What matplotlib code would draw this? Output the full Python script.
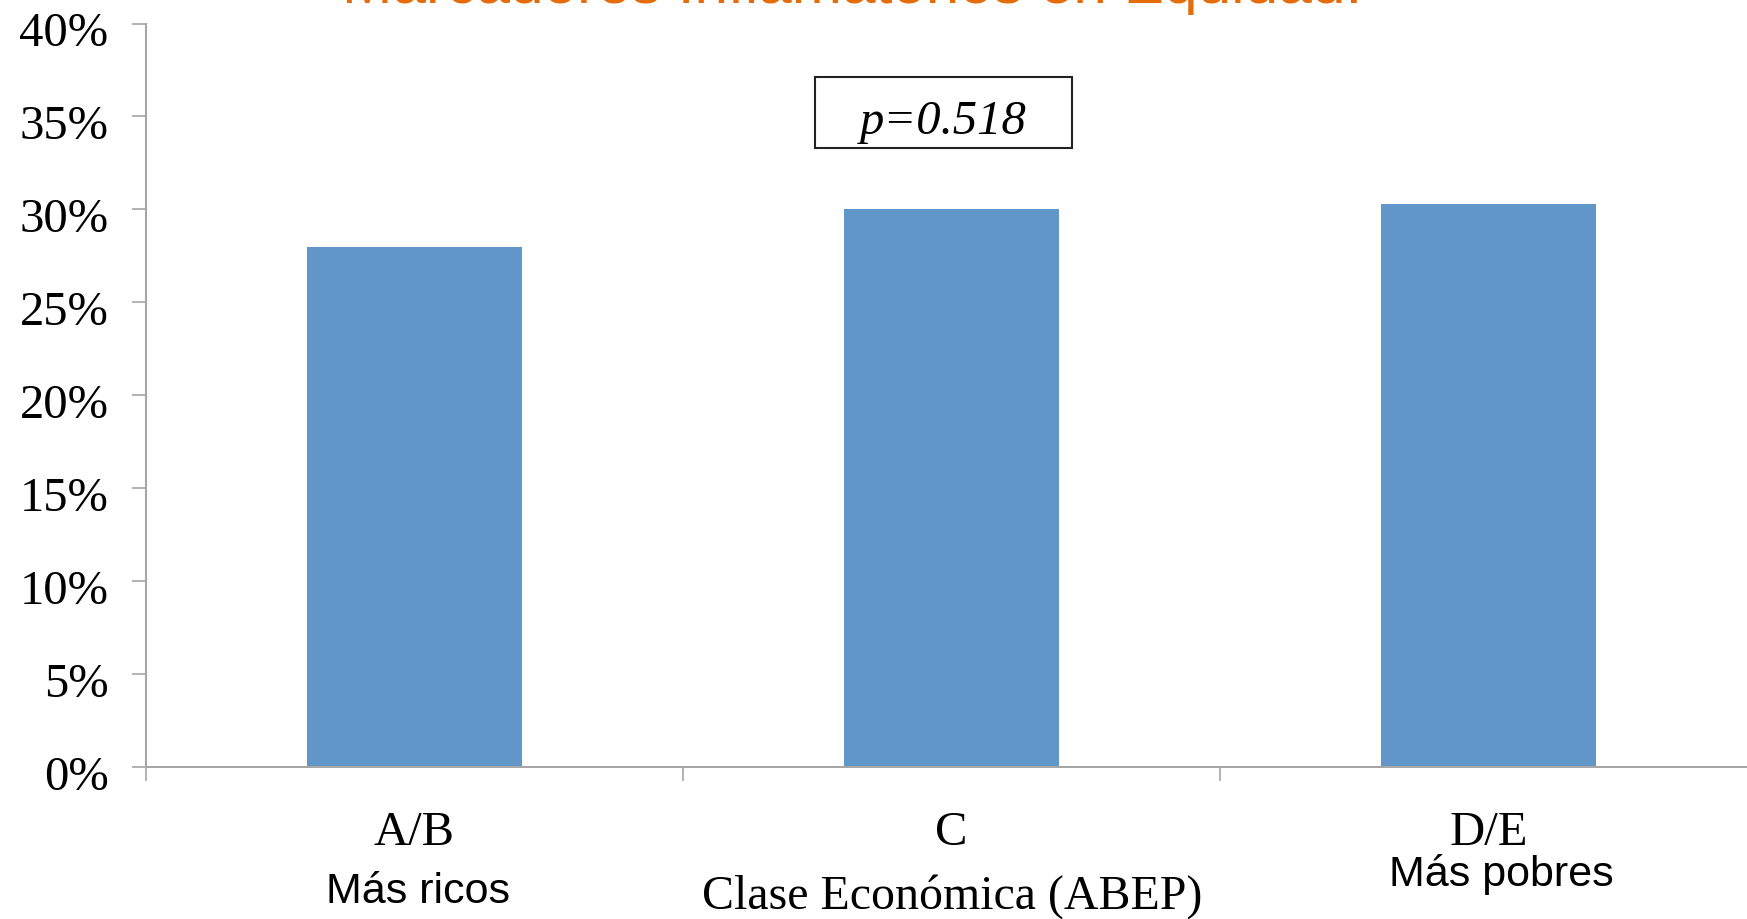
import matplotlib
matplotlib.use("Agg")

import matplotlib.pyplot as plt
import matplotlib.transforms as mtransforms
from matplotlib.patches import Rectangle
from matplotlib.ticker import PercentFormatter

# data
categories = ["A/B", "C", "D/E"]
values = [28.0, 30.0, 30.3]
sub_labels = ["Más ricos", "Más pobres"]
y_ticks = [0, 5, 10, 15, 20, 25, 30, 35, 40]
p_text = "p=0.518"
x_title = "Clase Económica (ABEP)"
title = "Marcadores Inflamatorios en Equidad:"

BAR = "#6196c9"
AXIS = "#a6a6a6"
ORANGE = "#e46c0a"
SERIF = "Liberation Serif"
SANS = "Liberation Sans"

fig = plt.figure(figsize=(17.47, 9.2), dpi=100)
ax = fig.add_axes([146 / 1747, 152 / 920, 1611 / 1747, 743.5 / 920])

x = list(range(len(categories)))
ax.bar(x, values, width=0.4, color=BAR, zorder=2)

ax.set_xlim(-0.5, 2.5)
ax.set_ylim(0, 40)
ax.set_yticks(y_ticks)
ax.yaxis.set_major_formatter(PercentFormatter(decimals=0))

for s in ["top", "right"]:
    ax.spines[s].set_visible(False)
for s in ["left", "bottom"]:
    ax.spines[s].set_color(AXIS)
    ax.spines[s].set_linewidth(1.5)

ax.tick_params(axis="y", length=10, width=1.2, color=AXIS, pad=17,
               labelsize=35)
shift = mtransforms.ScaledTranslation(0, -5 / 100, fig.dpi_scale_trans)
for lab in ax.get_yticklabels():
    lab.set_fontfamily(SERIF)
    lab.set_transform(lab.get_transform() + shift)

ax.set_xticks(x)
ax.set_xticklabels(categories, fontfamily=SERIF, fontsize=35)
ax.set_xticks([-0.5, 0.5, 1.5], minor=True)
ax.tick_params(axis="x", which="major", length=0, pad=31)
ax.tick_params(axis="x", which="minor", length=10, width=1.2, color=AXIS)

# axis title and the sub labels under the categories
fig.text(952 / 1747, 1 - 897 / 920, x_title, ha="center", va="center",
         fontfamily=SERIF, fontsize=34.5)
fig.text(418 / 1747, 1 - 892 / 920, sub_labels[0], ha="center",
         va="center", fontfamily=SANS, fontsize=31)
fig.text(1501 / 1747, 1 - 875 / 920, sub_labels[1], ha="center",
         va="center", fontfamily=SANS, fontsize=31)

# p-value box
fig.patches.append(Rectangle((815 / 1747, 1 - 149 / 920), 257 / 1747,
                             71 / 920, transform=fig.transFigure,
                             fill=False, edgecolor="#222222", linewidth=1.5))
fig.text(943 / 1747, 1 - 122 / 920, p_text, ha="center", va="center",
         fontfamily=SERIF, fontstyle="italic", fontsize=35)

# title, cut off at the top edge as in the source slide
fig.text(852 / 1747, 1 - 3 / 920, title, ha="center", va="baseline",
         fontfamily=SANS, fontsize=43.5, color=ORANGE)

fig.savefig("out.png", dpi=100)
